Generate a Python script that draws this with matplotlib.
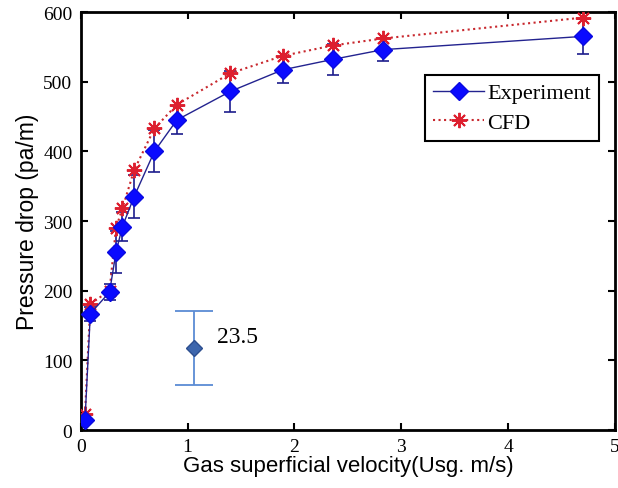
import matplotlib
matplotlib.use("Agg")
import matplotlib.pyplot as plt

# data
usg = [0.04, 0.09, 0.27, 0.33, 0.39, 0.50, 0.69, 0.90, 1.40, 1.89, 2.36, 2.83, 4.70]
dp_exp = [14, 167, 198, 255, 292, 335, 400, 445, 486, 517, 532, 546, 565]
dp_err = [6, 10, 12, 30, 21, 31, 30, 20, 29, 19, 22, 16, 25]
dp_cfd = [23, 181, 200, 290, 318, 373, 433, 467, 512, 537, 552, 562, 592]

# sample error bar drawn as a key
key_x = [1.06]
key_y = [118]
key_err = [53]
key_text = "23.5"

fig = plt.figure(figsize=(6.18, 4.89), dpi=100)
ax = fig.add_axes([0.1306, 0.1186, 0.8645, 0.8548])

ax.errorbar(usg, dp_exp, yerr=dp_err, fmt='none', ecolor='#1c1c8c',
            elinewidth=1.2, capsize=4.5, capthick=1.2, zorder=2)
ax.plot(usg, dp_cfd, linestyle=':', color='#c8282e', linewidth=1.5,
        marker=(8, 2, 0), markersize=11, markeredgewidth=1.4,
        markeredgecolor='#dd1f2f', label='CFD', zorder=3)
ax.plot(usg, dp_exp, linestyle='-', color='#23238f', linewidth=1.0,
        marker='D', markersize=9, markerfacecolor='#0a0aff',
        markeredgecolor='#0a0ae0', label='Experiment', zorder=4)

ax.errorbar(key_x, key_y, yerr=key_err, fmt='D', color='#5b8bd4',
            markerfacecolor='#3d66ad', markeredgecolor='#2d4f8f',
            markersize=8, elinewidth=1.3, capsize=14, capthick=1.3, zorder=3)
ax.text(key_x[0] + 0.22, key_y[0] + 16, key_text, fontsize=17,
        family='Liberation Serif', va='center', ha='left')

ax.set_xlim(0, 5)
ax.set_ylim(0, 600)
ax.set_xticks([0, 1, 2, 3, 4, 5])
ax.set_yticks([0, 100, 200, 300, 400, 500, 600])
ax.tick_params(direction='in', top=True, right=True, length=5, width=1.5,
               labelsize=14, pad=6)
for lab in ax.get_xticklabels() + ax.get_yticklabels():
    lab.set_family('Liberation Serif')
for sp in ax.spines.values():
    sp.set_linewidth(2)

ax.set_xlabel('Gas superficial velocity(Usg. m/s)', family='Liberation Sans',
              fontsize=16, labelpad=0)
ax.set_ylabel('Pressure drop (pa/m)', family='Liberation Sans',
              fontsize=16.5, labelpad=3)

handles, labels = ax.get_legend_handles_labels()
leg = ax.legend(handles[::-1], labels[::-1], loc='upper right',
                bbox_to_anchor=(0.970, 0.849), fancybox=False, framealpha=1,
                edgecolor='black', prop={'family': 'Liberation Serif', 'size': 16},
                handlelength=2.3, handletextpad=0.15, borderpad=0.35,
                labelspacing=0.4, borderaxespad=0)
leg.get_frame().set_linewidth(1.5)

fig.savefig('out.png', dpi=100)
